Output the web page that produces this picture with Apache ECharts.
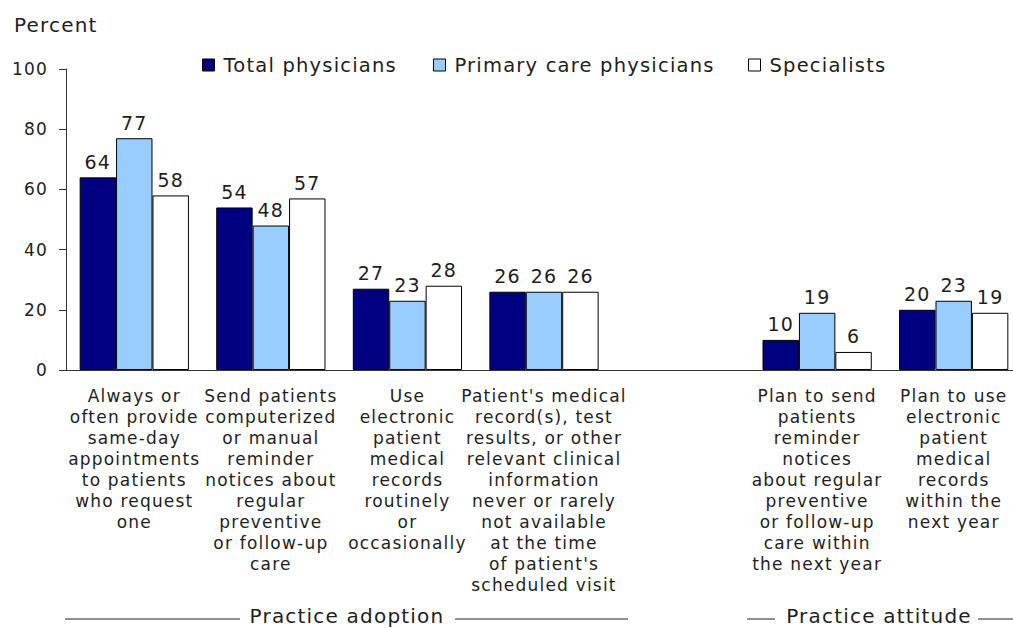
<!DOCTYPE html>
<html>
<head>
<meta charset="utf-8">
<title>Physician practices</title>
<script src="https://cdn.jsdelivr.net/npm/echarts@6.0.0/dist/echarts.min.js"></script>
<style>
    html, body { margin: 0; padding: 0; background: #fff; overflow: hidden; }
    #chart { width: 1013px; height: 628px; }
    /* the source type is tracked wide */
    #chart text { letter-spacing: 1.2px; }
</style>
</head>
<body>
<div id="chart"></div>
<script>
// categories (the empty one is the gap between the two groups)
const categories = [
    'Always or\noften provide\nsame-day\nappointments\nto patients\nwho request\none',
    'Send patients\ncomputerized\nor manual\nreminder\nnotices about\nregular\npreventive\nor follow-up\ncare',
    'Use\nelectronic\npatient\nmedical\nrecords\nroutinely\nor\noccasionally',
    "Patient's medical\nrecord(s), test\nresults, or other\nrelevant clinical\ninformation\nnever or rarely\nnot available\nat the time\nof patient's\nscheduled visit",
    '',
    'Plan to send\npatients\nreminder\nnotices\nabout regular\npreventive\nor follow-up\ncare within\nthe next year',
    'Plan to use\nelectronic\npatient\nmedical\nrecords\nwithin the\nnext year'
];
const seriesNames = ['Total physicians', 'Primary care physicians', 'Specialists'];
const totalPhysicians = [64, 54, 27, 26, '-', 10, 20];
const primaryCare = [77, 48, 23, 26, '-', 19, 23];
const specialists = [58, 57, 28, 26, '-', 6, 19];
const yTicks = [0, 20, 40, 60, 80, 100];
const groupLabels = ['Practice adoption', 'Practice attitude'];

const font = 'DejaVu Sans';
const ink = '#1e1e1e';
const colors = ['#000080', '#99ccff', '#ffffff'];
const values = [totalPhysicians, primaryCare, specialists];
const legendLeft = [202, 433, 748];

const chart = echarts.init(document.getElementById('chart'), null, { renderer: 'svg' });

const option = {
    animation: false,
    textStyle: { fontFamily: font, color: ink },
    title: {
        text: 'Percent',
        left: 9,
        top: 10,
        textStyle: { fontFamily: font, fontSize: 20, fontWeight: 'normal', color: ink }
    },
    legend: seriesNames.map((name, i) => ({
        data: [name],
        left: legendLeft[i],
        top: 55,
        padding: 0,
        icon: 'rect',
        itemWidth: 12,
        itemHeight: 12,
        itemStyle: { borderColor: '#000', borderWidth: 1 },
        selectedMode: false,
        textStyle: { fontFamily: font, fontSize: 19.5, color: ink, padding: [0, 0, 0, 4] }
    })),
    // plot runs a little past the right edge, as in the source
    grid: { left: 66, width: 956, top: 69, bottom: 258, outerBoundsMode: 'none' },
    xAxis: {
        type: 'category',
        data: categories,
        axisLine: { lineStyle: { color: '#333', width: 1 } },
        axisTick: { show: false },
        axisLabel: {
            interval: 0,
            margin: 15,
            fontFamily: font,
            fontSize: 17,
            lineHeight: 21,
            color: ink,
            align: 'center'
        }
    },
    yAxis: {
        type: 'value',
        min: yTicks[0],
        max: yTicks[yTicks.length - 1],
        interval: 20,
        splitLine: { show: false },
        axisLine: { show: true, lineStyle: { color: '#333', width: 1 } },
        axisTick: { show: true, length: 7, lineStyle: { color: '#333' } },
        axisLabel: { margin: 18, fontFamily: font, fontSize: 17, color: ink }
    },
    series: seriesNames.map((name, i) => ({
        name: name,
        type: 'bar',
        data: values[i],
        barGap: '0%',
        barCategoryGap: '20%',
        itemStyle: { color: colors[i], borderColor: '#000', borderWidth: 1 },
        label: {
            show: true,
            position: 'top',
            distance: 6,
            fontFamily: font,
            fontSize: 19,
            color: ink
        }
    })),
    // group brackets under the axis labels
    graphic: [
        { type: 'line', shape: { x1: 65, y1: 619, x2: 240, y2: 619 }, style: { stroke: '#222', lineWidth: 1 } },
        { type: 'line', shape: { x1: 455, y1: 619, x2: 628, y2: 619 }, style: { stroke: '#222', lineWidth: 1 } },
        { type: 'text', x: 347, y: 616, style: { text: groupLabels[0], font: '20px "DejaVu Sans"', fill: ink, textAlign: 'center', textVerticalAlign: 'middle' } },
        { type: 'line', shape: { x1: 747, y1: 619, x2: 775, y2: 619 }, style: { stroke: '#222', lineWidth: 1 } },
        { type: 'line', shape: { x1: 978, y1: 619, x2: 1013, y2: 619 }, style: { stroke: '#222', lineWidth: 1 } },
        { type: 'text', x: 879, y: 616, style: { text: groupLabels[1], font: '20px "DejaVu Sans"', fill: ink, textAlign: 'center', textVerticalAlign: 'middle' } }
    ]
};

chart.setOption(option);
</script>
</body>
</html>
